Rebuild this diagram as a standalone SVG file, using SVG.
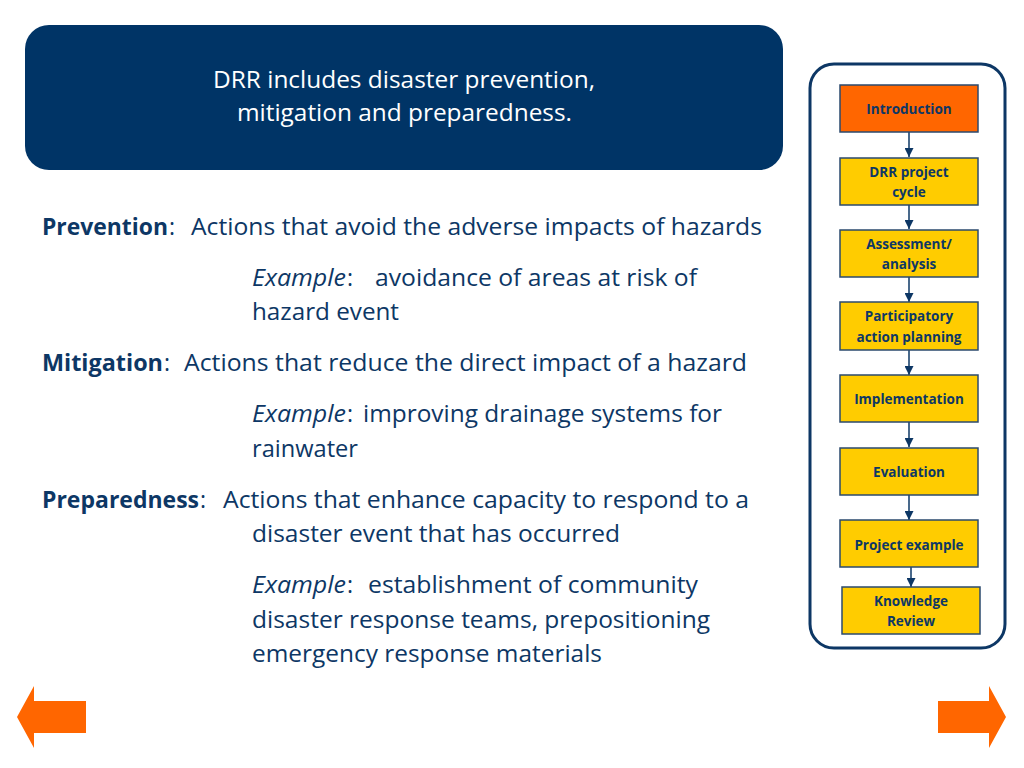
<svg xmlns="http://www.w3.org/2000/svg" width="1024" height="768" viewBox="0 0 1024 768">
<style>
.body{font-family:"Open Sans","Noto Sans",sans-serif;font-size:23px;fill:#0d3765;}
.b{font-weight:bold;}
.i{font-style:italic;}
.hdr{font-family:"Open Sans","Noto Sans",sans-serif;font-size:24px;fill:#ffffff;}
.box{fill:#ffcc00;stroke:#2b4a6e;stroke-width:1.5;}
.box.cur{fill:#ff6600;}
.lbl{font-family:"Open Sans","Noto Sans",sans-serif;font-size:13.5px;font-weight:bold;fill:#0d3765;text-anchor:middle;}
.conn{stroke:#0d3765;stroke-width:1.5;fill:none;marker-end:url(#ah);}
.nav{fill:#ff6600;}
</style>
<defs>
<marker id="ah" viewBox="0 0 10 10" refX="10" refY="5" markerWidth="6" markerHeight="6" markerUnits="strokeWidth" orient="auto">
<path d="M0,0 L10,5 L0,10 z" fill="#0d3765"/>
</marker>
</defs>
<rect width="1024" height="768" fill="#ffffff"/>

<g id="header">
<rect x="25" y="25" width="758" height="145" rx="24" ry="24" fill="#003466"/>
<text class="hdr" x="213" y="88" textLength="382" lengthAdjust="spacingAndGlyphs">DRR includes disaster prevention,</text>
<text class="hdr" x="237" y="121" textLength="335" lengthAdjust="spacingAndGlyphs">mitigation and preparedness.</text>
</g>

<g id="body-text">
<text class="body b" x="42" y="235" textLength="126" lengthAdjust="spacingAndGlyphs">Prevention</text>
<text class="body" x="169" y="235">:</text>
<text class="body" x="191" y="235" textLength="571" lengthAdjust="spacingAndGlyphs">Actions that avoid the adverse impacts of hazards</text>
<text class="body i" x="252" y="286" textLength="94" lengthAdjust="spacingAndGlyphs">Example</text>
<text class="body" x="347" y="286">:</text>
<text class="body" x="375" y="286" textLength="322" lengthAdjust="spacingAndGlyphs">avoidance of areas at risk of</text>
<text class="body" x="252" y="320" textLength="147" lengthAdjust="spacingAndGlyphs">hazard event</text>

<text class="body b" x="42" y="371" textLength="121" lengthAdjust="spacingAndGlyphs">Mitigation</text>
<text class="body" x="164" y="371">:</text>
<text class="body" x="184" y="371" textLength="563" lengthAdjust="spacingAndGlyphs">Actions that reduce the direct impact of a hazard</text>
<text class="body i" x="252" y="422" textLength="94" lengthAdjust="spacingAndGlyphs">Example</text>
<text class="body" x="347" y="422">:</text>
<text class="body" x="363" y="422" textLength="359" lengthAdjust="spacingAndGlyphs">improving drainage systems for</text>
<text class="body" x="252" y="457" textLength="106" lengthAdjust="spacingAndGlyphs">rainwater</text>

<text class="body b" x="42" y="508" textLength="157" lengthAdjust="spacingAndGlyphs">Preparedness</text>
<text class="body" x="200" y="508">:</text>
<text class="body" x="223" y="508" textLength="526" lengthAdjust="spacingAndGlyphs">Actions that enhance capacity to respond to a</text>
<text class="body" x="252" y="542" textLength="368" lengthAdjust="spacingAndGlyphs">disaster event that has occurred</text>
<text class="body i" x="252" y="593" textLength="94" lengthAdjust="spacingAndGlyphs">Example</text>
<text class="body" x="347" y="593">:</text>
<text class="body" x="368" y="593" textLength="330" lengthAdjust="spacingAndGlyphs">establishment of community</text>
<text class="body" x="252" y="628" textLength="458" lengthAdjust="spacingAndGlyphs">disaster response teams, prepositioning</text>
<text class="body" x="252" y="662" textLength="350" lengthAdjust="spacingAndGlyphs">emergency response materials</text>
</g>

<g id="sidebar">
<rect x="810" y="64" width="195" height="584" rx="24" ry="24" fill="#ffffff" stroke="#0d3765" stroke-width="3"/>
</g>

<g id="connectors">
<line class="conn" x1="909" y1="132" x2="909" y2="157"/>
<line class="conn" x1="909" y1="205" x2="909" y2="229"/>
<line class="conn" x1="909" y1="277" x2="909" y2="302"/>
<line class="conn" x1="909" y1="350" x2="909" y2="375"/>
<line class="conn" x1="909" y1="422" x2="909" y2="447"/>
<line class="conn" x1="909" y1="495" x2="909" y2="520"/>
<line class="conn" x1="911" y1="567" x2="911" y2="587"/>
</g>

<g id="node-introduction">
<rect class="box cur" x="840" y="85" width="138" height="47"/>
<text class="lbl" x="909" y="114">Introduction</text>
</g>
<g id="node-drr-project-cycle">
<rect class="box" x="840" y="158" width="138" height="47"/>
<text class="lbl" x="909" y="177">DRR project</text>
<text class="lbl" x="909" y="197">cycle</text>
</g>
<g id="node-assessment">
<rect class="box" x="840" y="230" width="138" height="47"/>
<text class="lbl" x="909" y="249">Assessment/</text>
<text class="lbl" x="909" y="269">analysis</text>
</g>
<g id="node-participatory">
<rect class="box" x="840" y="302" width="138" height="48"/>
<text class="lbl" x="909" y="321">Participatory</text>
<text class="lbl" x="909" y="342">action planning</text>
</g>
<g id="node-implementation">
<rect class="box" x="840" y="375" width="138" height="47"/>
<text class="lbl" x="909" y="404">Implementation</text>
</g>
<g id="node-evaluation">
<rect class="box" x="840" y="448" width="138" height="47"/>
<text class="lbl" x="909" y="477">Evaluation</text>
</g>
<g id="node-project-example">
<rect class="box" x="840" y="520" width="138" height="47"/>
<text class="lbl" x="909" y="550">Project example</text>
</g>
<g id="node-knowledge-review">
<rect class="box" x="842" y="587" width="138" height="47"/>
<text class="lbl" x="911" y="606">Knowledge</text>
<text class="lbl" x="911" y="626">Review</text>
</g>

<g id="nav-back">
<polygon class="nav" points="17,717 34,686 34,701 86,701 86,733 34,733 34,748"/>
</g>
<g id="nav-forward">
<polygon class="nav" points="1006,717 989,686 989,701 938,701 938,733 989,733 989,748"/>
</g>
</svg>
